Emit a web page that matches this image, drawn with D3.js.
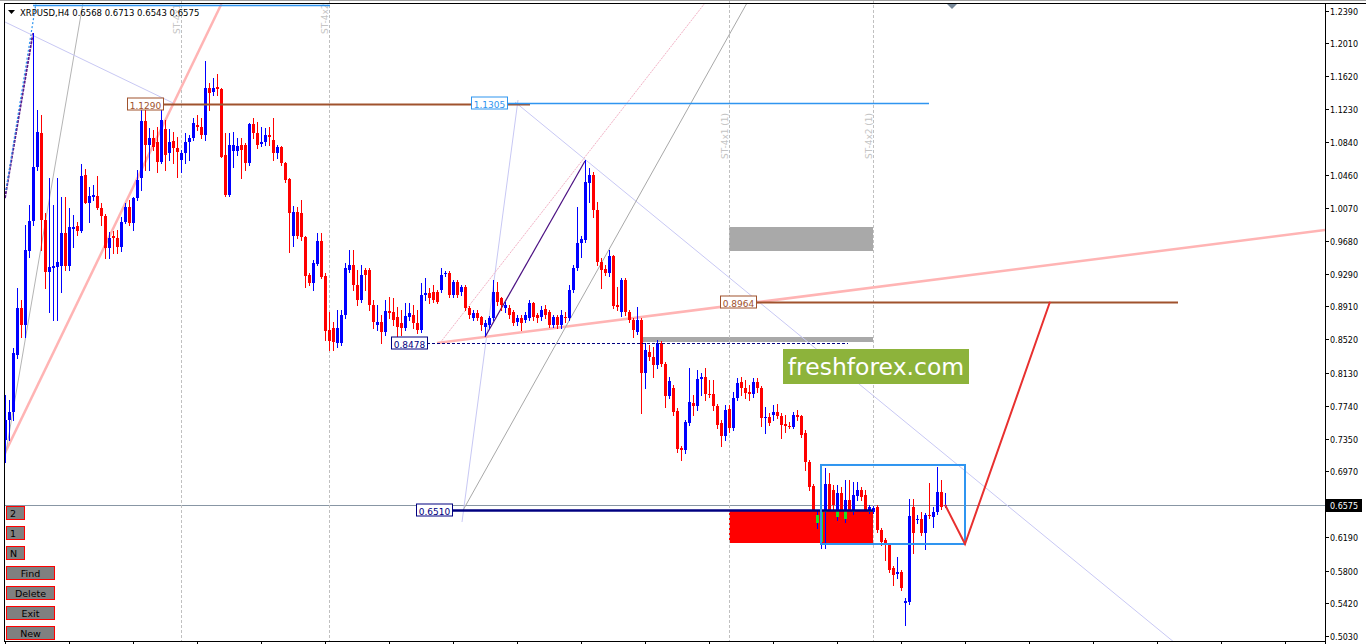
<!DOCTYPE html>
<html><head><meta charset="utf-8">
<script src="https://cdn.jsdelivr.net/npm/d3@7/dist/d3.min.js"></script>
<style>
html,body{margin:0;padding:0;background:#fff;overflow:hidden}
svg{display:block}
text{font-family:"DejaVu Sans",sans-serif}
</style></head><body>
<svg id="c" width="1366" height="644"></svg>
<script>
// ---------------- DATA ----------------
const symbol = "XRPUSD,H4";
const headerOHLC = [0.6568, 0.6713, 0.6543, 0.6575];
const currentPrice = 0.6575;
const yTicks = [1.2390,1.2010,1.1620,1.1230,1.0840,1.0460,1.0070,0.9680,0.9290,0.8910,0.8520,0.8130,0.7740,0.7350,0.6970,0.6190,0.5800,0.5420,0.5030];
const xTickBars = d3.range(0, 331, 16);

const opens = [0.7337,0.7573,0.7667,0.8338,0.8891,0.8691,0.9562,0.9915,1.0550,1.0951,0.9927,0.9315,0.9362,0.9373,0.9385,0.9774,0.9385,0.9821,0.9856,0.9797,
1.0456,1.0127,1.0197,1.0209,1.0068,0.9974,0.9597,0.9738,0.9715,0.9609,0.9903,1.0080,0.9891,1.0186,1.0421,1.1092,1.0809,1.0892,1.0845,1.0609,
1.0998,1.0715,1.0856,1.0774,1.0633,1.0715,1.0845,1.0892,1.1045,1.1021,1.0927,1.1480,1.1433,1.1492,1.1468,1.0692,1.0221,1.0739,1.0739,1.0809,
1.0809,1.0597,1.1057,1.0951,1.0821,1.0845,1.0927,1.0868,1.0715,1.0786,1.0597,1.0409,0.9738,1.0021,1.0009,0.9727,0.9279,0.9185,0.9409,0.9679,
0.9267,0.8632,0.8655,0.8479,0.8479,0.8808,0.9338,0.9397,0.9162,0.8985,0.9338,0.9338,0.8926,0.8691,0.8726,0.8608,0.8856,0.8844,0.8785,0.8714,
0.8655,0.8785,0.8808,0.8714,0.8632,0.9044,0.9067,0.9079,0.9079,0.9103,0.9291,0.9303,0.9044,0.9197,0.9079,0.9138,0.8891,0.8773,0.8832,0.8785,
0.8667,0.8691,0.8773,0.9079,0.9009,0.8891,0.8891,0.8844,0.8726,0.8773,0.8750,0.8773,0.8950,0.8808,0.8785,0.8879,0.8844,0.8691,0.8785,0.8691,
0.8785,0.8773,0.9103,0.9362,0.9656,0.9691,1.0362,1.0456,1.0044,0.9432,0.9350,0.9303,0.9503,0.8926,0.8844,0.9220,0.8844,0.8750,0.8608,0.8750,
0.8126,0.8373,0.8314,0.8220,0.8479,0.8232,0.7855,0.7949,0.7679,0.7243,0.7219,0.7537,0.7773,0.7737,0.8055,0.8079,0.7879,0.7879,0.7737,0.7537,
0.7384,0.7702,0.7478,0.7832,0.8020,0.7949,0.7902,0.7879,0.8020,0.7949,0.7596,0.7608,0.7631,0.7667,0.7620,0.7526,0.7502,0.7490,0.7631,0.7620,
0.7420,0.7078,0.6796,0.6360,0.6137,0.6490,0.6819,0.6749,0.6431,0.6713,0.6407,0.6631,0.6490,0.6678,0.6749,0.6690,0.6490,0.6490,0.6549,0.6278,
0.6160,0.6101,0.5831,0.5760,0.5784,0.5419,0.5430,0.6549,0.6396,0.6407,0.6243,0.6454,0.6431,0.6490,0.6725,0.6568];
const highs = [0.7867,0.7808,0.8420,0.9126,0.8985,0.9868,1.0103,1.2128,1.1221,1.1162,1.0009,1.0421,1.0103,1.0421,1.0197,1.0197,1.0068,0.9985,0.9903,1.0586,
1.0527,1.0315,1.0339,1.0444,1.0127,0.9997,0.9785,0.9797,0.9809,0.9962,1.0127,1.0162,1.0197,1.0515,1.1280,1.1245,1.1009,1.0986,1.1021,1.1304,
1.1104,1.0998,1.0962,1.0904,1.0750,1.0951,1.0927,1.1127,1.1162,1.1127,1.1798,1.1539,1.1598,1.1645,1.1480,1.0951,1.0951,1.0962,1.0892,1.0892,
1.0833,1.1068,1.1127,1.1080,1.1021,1.1009,1.1021,1.1127,1.0809,1.0798,1.0609,1.0421,1.0091,1.0080,1.0162,0.9738,0.9303,0.9456,0.9774,0.9774,
0.9303,0.8844,0.8726,0.8867,0.8867,0.9420,0.9573,0.9573,0.9338,0.9397,0.9362,0.9362,0.8985,0.8926,0.8808,0.8985,0.9020,0.9009,0.8903,0.8867,
0.8950,0.8950,0.8926,0.8867,0.9185,0.9244,0.9126,0.9162,0.9103,0.9362,0.9326,0.9326,0.9220,0.9220,0.9162,0.9162,0.8914,0.8867,0.8867,0.8797,
0.8750,0.8797,0.9220,0.9197,0.9020,0.8961,0.8926,0.8867,0.8808,0.8808,0.8844,0.8985,0.8961,0.8832,0.8914,0.8926,0.8867,0.8808,0.8808,0.8867,
0.8844,0.9162,0.9397,1.0080,0.9738,1.0633,1.0539,1.0492,1.0138,0.9479,0.9397,0.9573,0.9515,0.9138,0.9244,0.9244,0.8867,0.8773,0.8903,0.8773,
0.8479,0.8455,0.8432,0.8514,0.8502,0.8255,0.8079,0.7985,0.7714,0.7266,0.7573,0.8185,0.7867,0.8161,0.8126,0.8185,0.8043,0.8043,0.7761,0.7573,
0.7749,0.7749,0.7902,0.8067,0.8079,0.8043,0.7985,0.8067,0.8067,0.7973,0.7726,0.7655,0.7749,0.7761,0.7655,0.7631,0.7549,0.7667,0.7690,0.7631,
0.7455,0.7102,0.6819,0.6513,0.6537,0.7008,0.6949,0.6808,0.6808,0.6784,0.6866,0.6866,0.6843,0.6843,0.6784,0.6749,0.6572,0.6560,0.6572,0.6301,
0.6184,0.6125,0.5854,0.5960,0.5807,0.5478,0.6643,0.6643,0.6454,0.6490,0.6478,0.6831,0.6549,0.7019,0.6866,0.6713];
const lows = [0.7078,0.7337,0.7573,0.8302,0.8550,0.8550,0.9491,0.9868,1.0515,0.9573,0.9126,0.8844,0.8750,0.8750,0.9079,0.9338,0.9338,0.9609,0.9750,0.9785,
1.0127,0.9903,1.0162,1.0056,0.9868,0.9479,0.9479,0.9538,0.9538,0.9562,0.9891,0.9868,0.9809,1.0162,1.0280,1.0515,1.0515,1.0750,1.0492,1.0597,
1.0515,1.0633,1.0597,1.0433,1.0492,1.0597,1.0633,1.0868,1.0986,1.0892,1.0868,1.1221,1.1398,1.1398,1.0668,1.0209,1.0209,1.0550,1.0692,1.0421,
1.0515,1.0574,1.0892,1.0774,1.0798,1.0809,1.0809,1.0633,1.0656,1.0574,1.0374,0.9550,0.9621,0.9715,0.9691,0.9138,0.9162,0.9103,0.9397,0.9244,
0.8514,0.8396,0.8396,0.8432,0.8455,0.8773,0.9315,0.9103,0.8926,0.8961,0.9103,0.8867,0.8655,0.8632,0.8479,0.8573,0.8773,0.8691,0.8550,0.8573,
0.8632,0.8750,0.8655,0.8597,0.8608,0.8985,0.8950,0.8961,0.8950,0.9079,0.9267,0.9020,0.9020,0.9020,0.9044,0.8867,0.8773,0.8750,0.8750,0.8632,
0.8573,0.8655,0.8750,0.8926,0.8867,0.8844,0.8773,0.8691,0.8691,0.8632,0.8726,0.8750,0.8750,0.8726,0.8750,0.8773,0.8667,0.8667,0.8655,0.8655,
0.8726,0.8750,0.9079,0.9338,0.9491,0.9668,1.0138,0.9962,0.9397,0.9126,0.9279,0.9267,0.8891,0.8867,0.8797,0.8808,0.8726,0.8550,0.8585,0.7655,
0.7949,0.8279,0.8079,0.8185,0.8208,0.7726,0.7832,0.7631,0.7196,0.7102,0.7184,0.7514,0.7631,0.7690,0.7867,0.7808,0.7843,0.7690,0.7478,0.7267,
0.7337,0.7431,0.7455,0.7808,0.7867,0.7832,0.7808,0.7843,0.7902,0.7502,0.7420,0.7514,0.7573,0.7596,0.7361,0.7431,0.7478,0.7478,0.7573,0.7373,
0.6984,0.6749,0.6313,0.6301,0.6066,0.6066,0.6278,0.6454,0.6396,0.6337,0.6372,0.6454,0.6466,0.6631,0.6631,0.6490,0.6478,0.6478,0.6254,0.6101,
0.5925,0.5784,0.5631,0.5713,0.5572,0.5160,0.5407,0.6007,0.6360,0.6219,0.6054,0.6419,0.6313,0.6466,0.6525,0.6543];
const closes = [0.7573,0.7667,0.8361,0.8891,0.8691,0.9573,0.9915,1.0550,1.0962,0.9927,0.9315,0.9373,0.9385,0.9432,0.9774,0.9385,0.9844,0.9844,0.9797,1.0444,
1.0127,1.0209,1.0221,1.0068,0.9974,0.9597,0.9715,0.9715,0.9609,0.9903,1.0080,0.9891,1.0186,1.0397,1.1092,1.0809,1.0892,1.0786,1.0609,1.1104,
1.0692,1.0845,1.0774,1.0727,1.0715,1.0845,1.0892,1.1068,1.1021,1.0927,1.1480,1.1421,1.1480,1.1468,1.0668,1.0221,1.0809,1.0809,1.0798,1.0750,
1.0597,1.1057,1.0951,1.0809,1.0845,1.0927,1.0904,1.0715,1.0786,1.0597,1.0397,1.0009,1.0021,0.9738,0.9727,0.9267,0.9185,0.9420,0.9679,0.9256,
0.8620,0.8502,0.8491,0.8655,0.8808,0.9362,0.9397,0.9162,0.8985,0.9279,0.9279,0.8926,0.8726,0.8726,0.8608,0.8856,0.8832,0.8750,0.8667,0.8655,
0.8797,0.8832,0.8714,0.8632,0.9044,0.9067,0.9009,0.8985,0.8961,0.9279,0.9303,0.9044,0.9197,0.9044,0.9138,0.8891,0.8808,0.8832,0.8773,0.8691,
0.8714,0.8773,0.9079,0.8961,0.8926,0.8926,0.8808,0.8714,0.8773,0.8714,0.8808,0.8950,0.8785,0.8773,0.8867,0.8808,0.8691,0.8785,0.8691,0.8808,
0.8773,0.9103,0.9362,0.9656,0.9703,1.0374,1.0456,1.0044,0.9432,0.9338,0.9303,0.9503,0.8914,0.8903,0.9220,0.8844,0.8750,0.8632,0.8750,0.8126,
0.8396,0.8314,0.8220,0.8479,0.8232,0.7855,0.8032,0.7667,0.7231,0.7219,0.7549,0.7784,0.7737,0.8055,0.8079,0.7879,0.7867,0.7737,0.7514,0.7384,
0.7690,0.7478,0.7832,0.8008,0.7949,0.7890,0.7879,0.8020,0.7949,0.7596,0.7608,0.7537,0.7667,0.7620,0.7514,0.7502,0.7490,0.7631,0.7608,0.7396,
0.7078,0.6784,0.6490,0.6454,0.6490,0.6819,0.6313,0.6572,0.6713,0.6360,0.6631,0.6490,0.6690,0.6749,0.6666,0.6502,0.6549,0.6537,0.6278,0.6137,
0.6101,0.5807,0.5748,0.5784,0.5595,0.5442,0.6443,0.6243,0.6407,0.6243,0.6454,0.6443,0.6490,0.6725,0.6549,0.6575];

// drawn objects (bar index, price)
const vLineBars = [44, 81, 181, 217];
const vLineNames = ["ST-4x1", "ST-4x2", "ST-4x1 (1)", "ST-4x2 (1)"];
const vLineNamePrices = [1.2116, 1.2116, 1.0645, 1.0645];

const levelPrices = [1.1290, 1.1305, 0.8964, 0.8478, 0.6510];
const levelNames  = ["1.1290", "1.1305", "0.8964", "0.8478", "0.6510"];
const levelFrom   = [39.5, 125.5, 187.75, 105.5, 111.75];
const levelTo     = [131.25, 231, 293.25, 210.75, 217];

const zoneBars   = [181, 217];
const zonePrices = [0.6510, 0.6128];
const grayZoneA  = [181, 217, 0.9844, 0.9562];
const grayZoneB  = [159.25, 217, 0.8545, 0.8495];
const boxBars    = [204, 240];
const boxPrices  = [0.7043, 0.6113];
const forecastBars   = [235, 240, 261.25];
const forecastPrices = [0.6575, 0.6113, 0.8964];
const topLine = [7, 81.25, 1.2450];

// [bar1, price1, bar2, price2]
const trendLines = [
  [-0.25, 0.7161, 54.1, 1.2469],   // 0 pink steep
  [-0.25, 0.7062, 19.45, 1.2469],  // 1 gray steep
  [0, 1.0185, 7, 1.2128],          // 2 purple dashed
  [0.25, 1.0280, 7.75, 1.2481],    // 3 blue dotted
  [0, 1.2257, 42, 1.1304],         // 4 lavender
  [127.5, 1.1315, 292.5, 0.4948],  // 5 lavender long
  [114.25, 0.6372, 128.25, 1.1339],// 6 lavender steep
  [108.75, 0.8479, 175, 1.2481],   // 7 pink thin
  [108, 0.8479, 330, 0.9809],      // 8 pink shallow
  [120, 0.8549, 145, 1.0621],      // 9 purple
  [114.5, 0.6510, 185.5, 1.2481]   // 10 gray
];
const buttonLabels = ["2", "1", "N", "Find", "Delete", "Exit", "New"];

// ---------------- DRAW ----------------
const svg = d3.select("#c");
const P = {l: 4, t: 4, r: 1325, b: 641};
const x = d3.scaleLinear().domain([0, 330]).range([5, 1325]);
const y = d3.scaleLinear().domain([0.5030, 1.2390]).range([636, 10.7]);

svg.append("rect").attr("width", 1366).attr("height", 644).attr("fill", "#fff");
const defs = svg.append("defs");
defs.append("clipPath").attr("id", "pc").append("rect")
  .attr("x", P.l).attr("y", 0).attr("width", P.r - P.l).attr("height", P.b);
defs.append("clipPath").attr("id", "zc").append("rect")
  .attr("x", x(zoneBars[0])).attr("y", y(zonePrices[0]))
  .attr("width", x(zoneBars[1]) - x(zoneBars[0])).attr("height", y(zonePrices[1]) - y(zonePrices[0]));

const g = svg.append("g").attr("clip-path", "url(#pc)");

function zone(b1, b2, p1, p2, fill) {
  g.append("rect").attr("x", Math.round(x(b1))).attr("y", Math.round(y(p1)))
   .attr("width", Math.round(x(b2)) - Math.round(x(b1)))
   .attr("height", Math.round(y(p2)) - Math.round(y(p1))).attr("fill", fill);
}
zone(grayZoneA[0], grayZoneA[1], grayZoneA[2], grayZoneA[3], "#a9a9a9");
zone(grayZoneB[0], grayZoneB[1], grayZoneB[2], grayZoneB[3], "#a9a9a9");
zone(zoneBars[0], zoneBars[1], zonePrices[0], zonePrices[1], "#ff0000");

g.append("line").attr("x1", P.l).attr("x2", P.r)
  .attr("y1", Math.round(y(currentPrice)) + 0.5).attr("y2", Math.round(y(currentPrice)) + 0.5)
  .attr("stroke", "#8896a4").attr("stroke-width", 1);

vLineBars.forEach((b, k) => {
  const xx = Math.round(x(b)) + 0.5;
  g.append("line").attr("x1", xx).attr("x2", xx).attr("y1", 0).attr("y2", P.b)
    .attr("stroke", "#c0c0c0").attr("stroke-dasharray", "3,2");
  g.append("text").attr("transform", `translate(${xx - 2},${y(vLineNamePrices[k])}) rotate(-90)`)
    .attr("font-size", 9).attr("fill", "#c4c4c4").text(vLineNames[k]);
});

const tlStyle = [
  {c: "#ffb4b4", w: 2.5, d: null},
  {c: "#b4b4b4", w: 1, d: null},
  {c: "#5a1a8c", w: 1.8, d: "3,1"},
  {c: "#2f95f0", w: 1.2, d: "2,2"},
  {c: "#c8c8f4", w: 1, d: null},
  {c: "#c8c8f4", w: 1, d: null},
  {c: "#c8c8f4", w: 1, d: null},
  {c: "#f2b0c4", w: 1, d: "2,1"},
  {c: "#ffb4b4", w: 2.5, d: null},
  {c: "#4b1082", w: 1.2, d: null},
  {c: "#a8a8a8", w: 1, d: null}
];
trendLines.forEach((t, k) => {
  const s = tlStyle[k];
  const ln = g.append("line").attr("x1", x(t[0])).attr("y1", y(t[1])).attr("x2", x(t[2])).attr("y2", y(t[3]))
    .attr("stroke", s.c).attr("stroke-width", s.w);
  if (s.d) ln.attr("stroke-dasharray", s.d);
});
g.append("line").attr("x1", x(topLine[0])).attr("x2", x(topLine[1]))
  .attr("y1", y(topLine[2])).attr("y2", y(topLine[2])).attr("stroke", "#2f95f0").attr("stroke-width", 1.5);

const bars = opens.map((o, i) => ({i, o, h: highs[i], l: lows[i], c: closes[i]}));
const cg = g.append("g");
bars.forEach(d => {
  const cx = Math.round(x(d.i));
  const col = d.c >= d.o ? "#0000ff" : "#ff0000";
  const yh = Math.round(y(d.h)), yl = Math.round(y(d.l));
  cg.append("line").attr("x1", cx + 0.5).attr("x2", cx + 0.5).attr("y1", yh).attr("y2", yl + 1)
    .attr("stroke", col).attr("stroke-width", 1);
  const yt = Math.round(y(Math.max(d.o, d.c))), yb = Math.round(y(Math.min(d.o, d.c)));
  cg.append("rect").attr("x", cx - 1).attr("y", yt).attr("width", 3).attr("height", Math.max(1, yb - yt))
    .attr("fill", col);
});
const zg = g.append("g").attr("clip-path", "url(#zc)");
bars.filter(d => d.i >= zoneBars[0] && d.i <= zoneBars[1] && d.c > d.o).forEach(d => {
  const cx = Math.round(x(d.i));
  const yt = Math.round(y(d.c)), yb = Math.round(y(d.o));
  zg.append("rect").attr("x", cx - 1).attr("y", yt).attr("width", 3).attr("height", Math.max(1, yb - yt)).attr("fill", "#22dd22");
});

const lvStyle = [
  {c: "#a0522d", w: 2.2, d: null},
  {c: "#2f95f0", w: 1.3, d: null},
  {c: "#a0522d", w: 2.2, d: null},
  {c: "#000080", w: 1, d: "3,2"},
  {c: "#000080", w: 2.5, d: null}
];
levelPrices.forEach((p, k) => {
  const s = lvStyle[k];
  const yy = Math.round(y(p)) + 0.5;
  const ln = g.append("line").attr("x1", x(levelFrom[k])).attr("x2", x(levelTo[k])).attr("y1", yy).attr("y2", yy)
    .attr("stroke", s.c).attr("stroke-width", s.w);
  if (s.d) ln.attr("stroke-dasharray", s.d);
  const bx = Math.round(x(levelFrom[k])) - 36;
  g.append("rect").attr("x", bx + 0.5).attr("y", Math.round(yy - 6.5)).attr("width", 36).attr("height", 12)
    .attr("fill", "#fff").attr("stroke", s.c).attr("stroke-width", 1);
  g.append("text").attr("x", bx + 18.5).attr("y", yy + 4).attr("text-anchor", "middle")
    .attr("font-size", 9).attr("fill", s.c).text(levelNames[k]);
});

g.append("rect").attr("x", x(boxBars[0])).attr("y", y(boxPrices[0]))
  .attr("width", x(boxBars[1]) - x(boxBars[0])).attr("height", y(boxPrices[1]) - y(boxPrices[0]))
  .attr("fill", "none").attr("stroke", "#2f95f0").attr("stroke-width", 2);

g.append("path").attr("d", d3.line().x((b) => x(b)).y((b, k) => y(forecastPrices[k]))(forecastBars))
  .attr("fill", "none").attr("stroke", "#e8302f").attr("stroke-width", 2);

// watermark
svg.append("rect").attr("x", 783).attr("y", 349).attr("width", 186).attr("height", 35).attr("fill", "#8db33b");
svg.append("text").attr("x", 876).attr("y", 375).attr("text-anchor", "middle")
  .attr("font-family", "Open Sans").attr("font-size", 23.5).attr("fill", "#fff").text("freshforex.com");

// header
svg.append("path").attr("d", "M8,10 L15,10 L11.5,14 Z").attr("fill", "#000");
svg.append("text").attr("x", 20).attr("y", 15.5).attr("font-size", 8.5).attr("fill", "#000")
  .text(`${symbol}  ${headerOHLC.map(v => v.toFixed(4)).join(" ")}`);
svg.append("path").attr("d", `M${x(236.75) - 5},4 L${x(236.75) + 5},4 L${x(236.75)},9 Z`).attr("fill", "#778899");

// buttons
buttonLabels.forEach((t, k) => {
  const small = k < 3;
  const by = 506 + k * 20;
  svg.append("rect").attr("x", 6.5).attr("y", by + 0.5).attr("width", small ? 18 : 48).attr("height", 13)
    .attr("fill", "#808080").attr("stroke", "#ff0000").attr("stroke-width", 1);
  svg.append("text").attr("x", small ? 10 : 30.5).attr("y", by + 11)
    .attr("text-anchor", small ? "start" : "middle").attr("font-size", 9.5).attr("fill", "#000").text(t);
});

// frame & axes
svg.append("line").attr("x1", 0).attr("x2", 1366).attr("y1", 0.5).attr("y2", 0.5).attr("stroke", "#a0a0a0");
svg.append("line").attr("x1", P.l).attr("x2", 1366).attr("y1", 3.5).attr("y2", 3.5).attr("stroke", "#000");
svg.append("line").attr("x1", P.l + 0.5).attr("x2", P.l + 0.5).attr("y1", 3.5).attr("y2", P.b).attr("stroke", "#000");
svg.append("line").attr("x1", P.l).attr("x2", P.r).attr("y1", P.b + 0.5).attr("y2", P.b + 0.5).attr("stroke", "#000");
svg.append("line").attr("x1", P.r + 0.5).attr("x2", P.r + 0.5).attr("y1", 3.5).attr("y2", 644).attr("stroke", "#000");

yTicks.forEach(v => {
  const yy = Math.round(y(v)) + 0.5;
  svg.append("line").attr("x1", P.r).attr("x2", P.r + 4).attr("y1", yy).attr("y2", yy).attr("stroke", "#000");
  svg.append("text").attr("x", 1330).attr("y", yy + 3).attr("font-size", 8).attr("fill", "#000").text(v.toFixed(4));
});
xTickBars.forEach(b => {
  const xx = Math.round(x(b)) + 0.5;
  svg.append("line").attr("x1", xx).attr("x2", xx).attr("y1", P.b).attr("y2", 644).attr("stroke", "#000");
});
const cy = Math.round(y(currentPrice)) + 0.5;
svg.append("rect").attr("x", P.r + 1).attr("y", cy - 6.5).attr("width", 36).attr("height", 13).attr("fill", "#000");
svg.append("text").attr("x", 1330).attr("y", cy + 3).attr("font-size", 8).attr("fill", "#fff").text(currentPrice.toFixed(4));
</script>
</body></html>
